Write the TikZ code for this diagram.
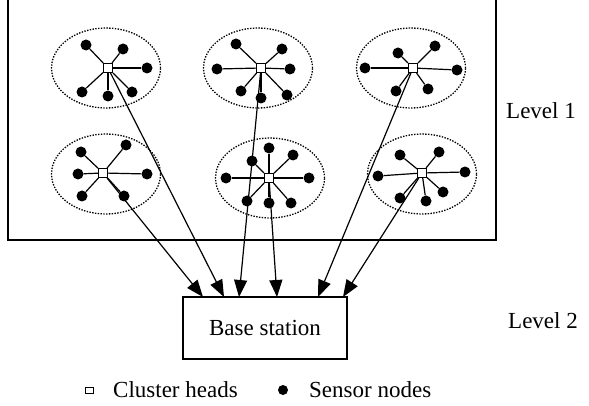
\documentclass[tikz,border=0pt]{standalone}
\usepackage{fontspec}
\setmainfont{Liberation Serif}
\usetikzlibrary{arrows.meta,shapes.geometric}
\begin{document}
\begin{tikzpicture}[x=1pt,y=-1pt,
  sensor/.style={circle,fill=black,inner sep=0pt,minimum size=11pt},
  head/.style={draw,fill=white,inner sep=0pt,minimum size=9pt,line width=1.1pt},
  link/.style={line width=1.2pt},
  cluster/.style={draw,ellipse,inner sep=0pt,line width=1.3pt,
    dash pattern=on 1.4pt off 1.4pt,minimum width=109pt,minimum height=80pt},
  uplink/.style={line width=1.2pt,-{Triangle[length=17pt,width=13pt]}},
  lbl/.style={font=\fontsize{23}{26}\selectfont,inner sep=0pt}]
\useasboundingbox (0,0) rectangle (589,406);

% level-1 area
\draw[line width=1.1pt] (8,0) -- (8,240) -- (496,240) -- (496,0);

% cluster outlines
\node[cluster] (e1) at (106,68) {};
\node[cluster] (e2) at (258,68) {};
\node[cluster] (e3) at (411,68) {};
\node[cluster] (e4) at (106,174) {};
\node[cluster] (e5) at (270,178) {};
\node[cluster] (e6) at (422,174) {};

% cluster heads
\node[head] (h1) at (108,68) {};
\node[head] (h2) at (261,68) {};
\node[head] (h3) at (413,68) {};
\node[head] (h4) at (103,173) {};
\node[head] (h5) at (269,178) {};
\node[head] (h6) at (422,173) {};

% sensor nodes with their links to the head
\foreach \p [count=\i] in {(86,45),(123,49),(147,68),(82,92),(108,96),(132,92)}
  {\node[sensor] (sa\i) at \p {}; \draw[link] (h1) -- (sa\i);}
\foreach \p [count=\i] in {(236,44),(282,49),(217,69),(290,69),(241,91),(261,98),(287,95)}
  {\node[sensor] (sb\i) at \p {}; \draw[link] (h2) -- (sb\i);}
\foreach \p [count=\i] in {(398,53),(435,46),(365,68),(457,70),(396,91),(428,89)}
  {\node[sensor] (sc\i) at \p {}; \draw[link] (h3) -- (sc\i);}
\foreach \p [count=\i] in {(81,152),(126,145),(78,174),(147,174),(82,196),(124,196)}
  {\node[sensor] (sd\i) at \p {}; \draw[link] (h4) -- (sd\i);}
\foreach \p [count=\i] in {(269,148),(293,155),(252,161),(226,178),(309,178),(247,201),(269,203),(291,203)}
  {\node[sensor] (se\i) at \p {}; \draw[link] (h5) -- (se\i);}
\foreach \p [count=\i] in {(400,155),(439,152),(378,176),(465,172),(400,198),(426,201),(443,192)}
  {\node[sensor] (sf\i) at \p {}; \draw[link] (h6) -- (sf\i);}

% base station
\node[draw,line width=1.1pt,minimum width=164pt,minimum height=62pt,lbl] (bs) at (265,328) {Base station};
\coordinate (t1) at (203,297);
\coordinate (t2) at (224,297);
\coordinate (t3) at (239,297);
\coordinate (t4) at (277,297);
\coordinate (t5) at (318,297);
\coordinate (t6) at (343,297);

% uplinks from cluster heads
\draw[uplink] (h4) -- (t1);
\draw[uplink] (h1) -- (t2);
\draw[uplink] (h2) -- (t3);
\draw[uplink] (h5) -- (t4);
\draw[uplink] (h3) -- (t5);
\draw[uplink] (h6) -- (t6);

% level labels
\node[lbl] (l1) at (541,111) {Level 1};
\node[lbl] (l2) at (543,321) {Level 2};

% legend
\node[draw,inner sep=0pt,minimum width=8pt,minimum height=6pt,line width=1pt] (k1) at (89,390) {};
\node[lbl,anchor=west] (k1t) at (113,390) {Cluster heads};
\node[sensor,minimum size=10pt] (k2) at (283,390) {};
\node[lbl,anchor=west] (k2t) at (309,390) {Sensor nodes};
\end{tikzpicture}
\end{document}
